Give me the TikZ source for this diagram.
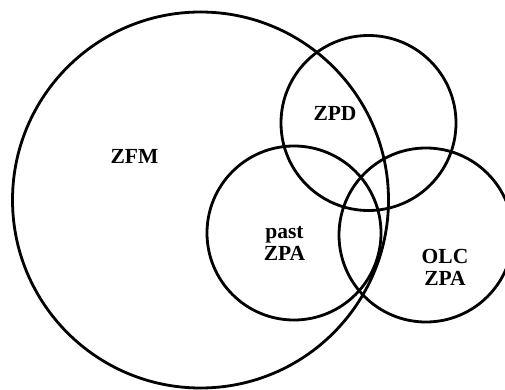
\documentclass[tikz,border=0pt]{standalone}
\usepackage{fontspec}
\setmainfont{Liberation Serif}
\begin{document}
\begin{tikzpicture}[x=1pt,y=-1pt,
  ring/.style={draw=black,line width=2.8pt,circle,inner sep=0pt,fill=none},
  lbl/.style={font=\fontsize{21.5}{22}\selectfont\bfseries,align=center,inner sep=0pt}]
\useasboundingbox (0,0) rectangle (505,390);
\clip (0,0) rectangle (505,390);
\node[ring,minimum size=376pt] (zfm) at (200.5,200) {};
\node[ring,minimum size=175pt] (zpd) at (368.5,123) {};
\node[ring,minimum size=174pt] (past) at (294,233) {};
\node[ring,minimum size=174pt] (olc) at (426,235) {};
\node[lbl] (tzfm) at (134.5,156.5) {ZFM};
\node[lbl] (tzpd) at (335,113.5) {ZPD};
\node[lbl] (tpast) at (284.5,243) {past\\ZPA};
\node[lbl] (tolc) at (445,267.5) {OLC\\ZPA};
\end{tikzpicture}
\end{document}
